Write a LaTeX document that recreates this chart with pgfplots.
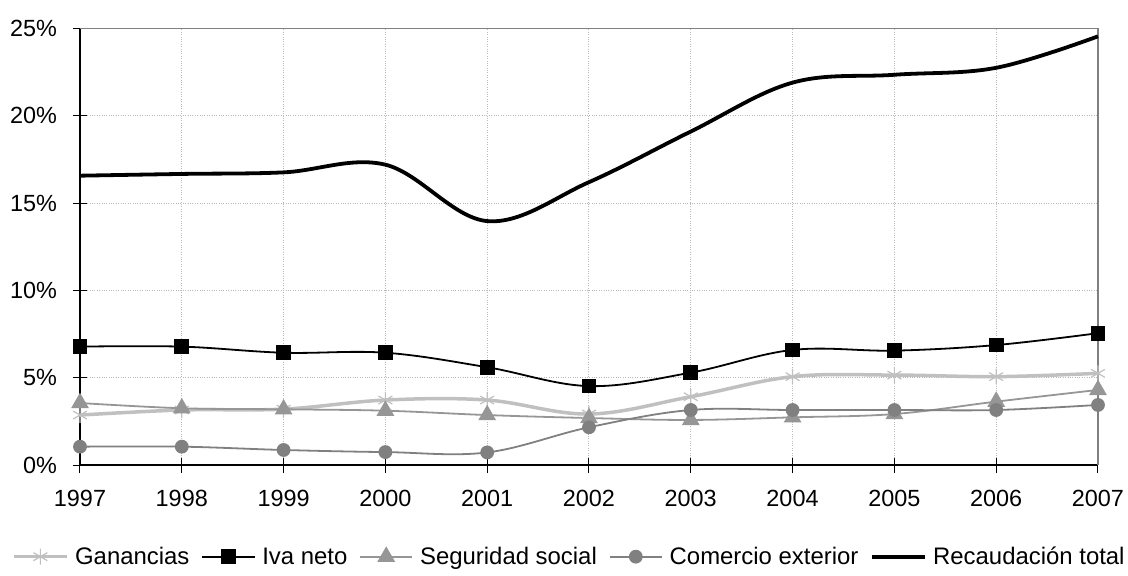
\documentclass[border=0pt]{standalone}
\usepackage{pgfplots}
\pgfplotsset{compat=1.18}
\usepackage{fontspec}
\setmainfont{Liberation Sans}
\definecolor{ganc}{HTML}{C0C0C0}
\definecolor{segc}{HTML}{969696}
\definecolor{comc}{HTML}{808080}
\begin{document}
\begin{tikzpicture}
\begin{axis}[
  at={(0,0)}, anchor=south west,
  scale only axis, width=1018bp, height=436.5bp,
  xmin=1997, xmax=2007, ymin=0, ymax=25,
  xtick={1997,...,2007}, ytick={0,5,10,15,20,25},
  /pgf/number format/assume math mode=true,
  xticklabel style={/pgf/number format/1000 sep={}, yshift=-14bp},
  yticklabel={\pgfmathprintnumber{\tick}\%},
  yticklabel style={xshift=-12bp},
  tick label style={font=\fontsize{23.5}{27}\selectfont},
  axis lines=left, axis line style={-, black, line width=1.2bp},
  tick align=center, major tick length=15bp,
  tick style={black, line width=1bp},
  grid=major, major grid style={dotted, gray!55, line width=0.9bp},
  clip=false,
  legend columns=5,
  legend style={draw=none, at={(0.48,-0.21)}, anchor=center,
    font=\fontsize{24}{28}\selectfont,
    nodes={inner xsep=0pt, inner ysep=2pt},
    /tikz/every odd column/.append style={column sep=7bp},
    /tikz/every even column/.append style={column sep=12bp}},
  legend image code/.code={\draw[mark repeat=2, mark phase=2] plot coordinates {(0bp,0bp) (26bp,0bp) (52bp,0bp)};},
]
\draw[comc, line width=1.2bp] (rel axis cs:0,1) -- (rel axis cs:1,1) -- (rel axis cs:1,0);
% Ganancias
\addplot[ganc, line width=3.5bp, smooth, tension=0.6, mark=asterisk, mark size=8bp, mark options={line width=1.2bp, ganc}] coordinates {
(1997,2.86) (1998,3.15) (1999,3.2) (2000,3.72) (2001,3.72) (2002,2.92) (2003,3.91) (2004,5.06) (2005,5.15) (2006,5.06) (2007,5.25)};
\addlegendentry{Ganancias}
% Iva neto
\addplot[black, line width=1.8bp, smooth, tension=0.6, mark=square*, mark size=6.5bp, mark options={solid}] coordinates {
(1997,6.78) (1998,6.78) (1999,6.43) (2000,6.43) (2001,5.6) (2002,4.52) (2003,5.29) (2004,6.59) (2005,6.55) (2006,6.87) (2007,7.55)};
\addlegendentry{Iva neto}
% Seguridad social
\addplot[segc, line width=1.8bp, smooth, tension=0.6, mark=triangle*, mark size=8.5bp, mark options={segc}] coordinates {
(1997,3.55) (1998,3.25) (1999,3.19) (2000,3.11) (2001,2.86) (2002,2.69) (2003,2.58) (2004,2.73) (2005,2.92) (2006,3.63) (2007,4.3)};
\addlegendentry{Seguridad social}
% Comercio exterior
\addplot[comc, line width=1.8bp, smooth, tension=0.6, mark=*, mark size=6bp, mark options={comc}] coordinates {
(1997,1.05) (1998,1.05) (1999,0.86) (2000,0.74) (2001,0.72) (2002,2.16) (2003,3.15) (2004,3.15) (2005,3.15) (2006,3.15) (2007,3.44)};
\addlegendentry{Comercio exterior}
% Recaudacion total
\addplot[black, line width=3.8bp, smooth, tension=0.6, no marks] coordinates {
(1997,16.57) (1998,16.67) (1999,16.76) (2000,17.2) (2001,13.97) (2002,16.2) (2003,19.1) (2004,21.9) (2005,22.35) (2006,22.75) (2007,24.55)};
\addlegendentry{Recaudación total}
\end{axis}
\path[use as bounding box] (-80bp,-111bp) rectangle (1048bp,465bp);
\end{tikzpicture}
\end{document}
